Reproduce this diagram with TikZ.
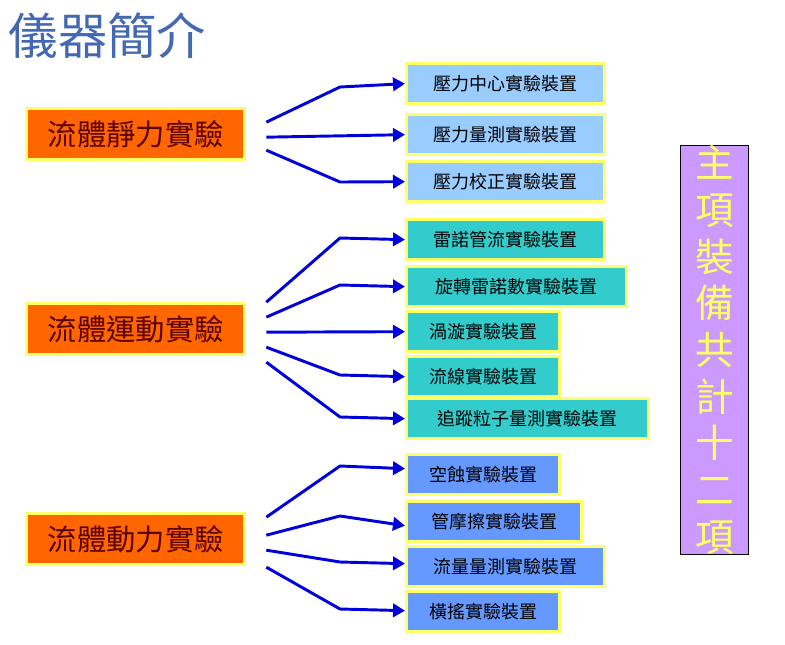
\documentclass[tikz,border=0pt]{standalone}
\usepackage{fontspec}
\newfontfamily\cjk{Noto Sans CJK TC}
\usetikzlibrary{arrows.meta}
\definecolor{titleblue}{RGB}{66,105,178}
\definecolor{orng}{RGB}{255,102,0}
\definecolor{lblue}{RGB}{153,204,255}
\definecolor{teal2}{RGB}{51,204,204}
\definecolor{mblue}{RGB}{102,153,255}
\definecolor{purp}{RGB}{204,153,255}
\definecolor{ylw}{RGB}{255,255,102}
\definecolor{arrblue}{RGB}{0,0,220}
\tikzset{
  bx/.style={draw=ylw,line width=2.5pt,anchor=north west,inner sep=0pt,font=\cjk\fontsize{13.5}{14}\selectfont,text=black},
  catbox/.style={bx,fill=orng,minimum width=218*0.75pt,minimum height=51*0.75pt,font=\cjk\fontsize{22}{24}\selectfont,text={rgb,255:red,90;green,0;blue,0}},
  conn/.style={draw=arrblue,line width=2.2pt,-{Triangle[length=9pt,width=10pt]}},
}
\begin{document}
\begin{tikzpicture}[x=0.75pt,y=-0.75pt]
\useasboundingbox (0,0) rectangle (785,644);
\node[anchor=west,text=titleblue,font=\cjk\fontsize{37}{40}\selectfont] (title) at (4,36) {儀器簡介};
% categories
\node[catbox] (c1) at (25,107) {流體靜力實驗};
\node[catbox] (c2) at (25,302) {流體運動實驗};
\node[catbox] (c3) at (25,512) {流體動力實驗};
% items
\newcommand\itembox[6]{\node[bx,fill=#1,minimum width=#4*0.75pt,minimum height=40*0.75pt] (#5) at (405,#3) {#6};}
\itembox{lblue}{}{62}{198}{s1}{壓力中心實驗裝置}
\itembox{lblue}{}{113}{198}{s2}{壓力量測實驗裝置}
\itembox{lblue}{}{160}{198}{s3}{壓力校正實驗裝置}
\itembox{teal2}{}{218}{198}{m1}{雷諾管流實驗裝置}
\itembox{teal2}{}{265}{220}{m2}{旋轉雷諾數實驗裝置}
\itembox{teal2}{}{310}{153}{m3}{渦漩實驗裝置}
\itembox{teal2}{}{355}{153}{m4}{流線實驗裝置}
\itembox{teal2}{}{397}{242}{m5}{追蹤粒子量測實驗裝置}
\itembox{mblue}{}{453}{153}{d1}{空蝕實驗裝置}
\itembox{mblue}{}{500}{175}{d2}{管摩擦實驗裝置}
\itembox{mblue}{}{545}{198}{d3}{流量量測實驗裝置}
\itembox{mblue}{}{590}{153}{d4}{橫搖實驗裝置}
% summary
\node[draw=black,line width=0.6pt,fill=purp,anchor=north west,minimum width=68*0.75pt,minimum height=348*0.75pt,inner sep=0pt,text=ylw,font=\cjk\fontsize{29}{35}\selectfont,align=center] (sum) at (680,145) {主\\項\\裝\\備\\共\\計\\十\\二\\項};
% connectors
\draw[conn] ([xshift=20*0.75pt,yshift=-(120-132)*0.75pt]c1.east) -- (340,87) -- (s1.west);
\draw[conn] ([xshift=20*0.75pt,yshift=-(135-132)*0.75pt]c1.east) -- (s2.west);
\draw[conn] ([xshift=20*0.75pt,yshift=-(148-132)*0.75pt]c1.east) -- (340,182) -- (s3.west);
\draw[conn] ([xshift=20*0.75pt,yshift=-(300-327)*0.75pt]c2.east) -- (340,238) -- (m1.west);
\draw[conn] ([xshift=20*0.75pt,yshift=-(315-327)*0.75pt]c2.east) -- (340,285) -- (m2.west);
\draw[conn] ([xshift=20*0.75pt,yshift=-(330-327)*0.75pt]c2.east) -- (m3.west);
\draw[conn] ([xshift=20*0.75pt,yshift=-(345-327)*0.75pt]c2.east) -- (340,375) -- (m4.west);
\draw[conn] ([xshift=20*0.75pt,yshift=-(360-327)*0.75pt]c2.east) -- (340,417) -- (m5.west);
\draw[conn] ([xshift=20*0.75pt,yshift=-(515-537)*0.75pt]c3.east) -- (340,466) -- ([yshift=6*0.75pt]d1.west);
\draw[conn] ([xshift=20*0.75pt,yshift=-(533-537)*0.75pt]c3.east) -- (340,516) -- ([yshift=-4*0.75pt]d2.west);
\draw[conn] ([xshift=20*0.75pt,yshift=-(548-537)*0.75pt]c3.east) -- (340,562) -- ([yshift=3*0.75pt]d3.west);
\draw[conn] ([xshift=20*0.75pt,yshift=-(565-537)*0.75pt]c3.east) -- (340,609) -- ([yshift=1*0.75pt]d4.west);
\end{tikzpicture}
\end{document}
